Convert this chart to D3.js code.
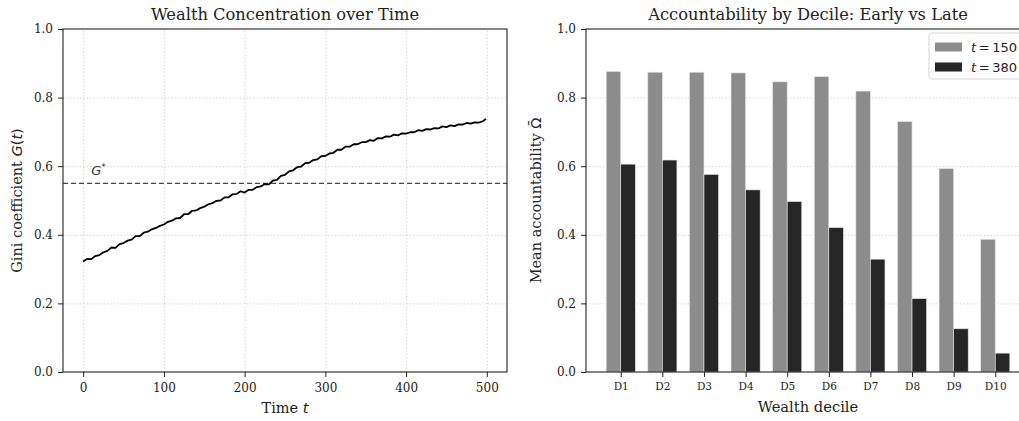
<!DOCTYPE html>
<html>
<head>
<meta charset="utf-8">
<script src="https://cdn.jsdelivr.net/npm/d3@7"></script>
<style>
  body { margin: 0; background: #fff; }
  svg { display: block; }
  text { font-family: "DejaVu Serif", serif; fill: #222; }
  .axis text { font-family: "DejaVu Serif", serif; font-size: 12px; fill: #222; }
  .axis path, .axis line { stroke: #222; }
  .grid line { stroke: #c8c8c8; stroke-dasharray: 1.2,2.2; stroke-width: 0.9; }
  .grid path { display: none; }
  .math { font-family: "DejaVu Sans", sans-serif; }
</style>
</head>
<body>
<svg id="fig" width="1019" height="421"></svg>
<script>
// ---- data ----
// Gini coefficient G(t), sampled every 5 steps (last point t=499)
const giniTimes = [
  0, 5, 10, 15, 20, 25, 30, 35, 40, 45, 50, 55, 60, 65, 70, 75, 80, 85, 90, 95,
  100, 105, 110, 115, 120, 125, 130, 135, 140, 145, 150, 155, 160, 165, 170, 175, 180, 185, 190, 195,
  200, 205, 210, 215, 220, 225, 230, 235, 240, 245, 250, 255, 260, 265, 270, 275, 280, 285, 290, 295,
  300, 305, 310, 315, 320, 325, 330, 335, 340, 345, 350, 355, 360, 365, 370, 375, 380, 385, 390, 395,
  400, 405, 410, 415, 420, 425, 430, 435, 440, 445, 450, 455, 460, 465, 470, 475, 480, 485, 490, 495, 499
];
const giniValues = [
  0.322, 0.330, 0.329, 0.338, 0.341, 0.349, 0.353, 0.363, 0.362, 0.373,
  0.376, 0.383, 0.386, 0.396, 0.396, 0.406, 0.409, 0.416, 0.420, 0.426,
  0.430, 0.438, 0.441, 0.448, 0.449, 0.460, 0.460, 0.470, 0.471, 0.478,
  0.482, 0.489, 0.492, 0.499, 0.500, 0.509, 0.509, 0.518, 0.519, 0.527,
  0.523, 0.531, 0.531, 0.539, 0.541, 0.548, 0.547, 0.558, 0.560, 0.572,
  0.575, 0.585, 0.588, 0.597, 0.599, 0.609, 0.610, 0.618, 0.620, 0.629,
  0.630, 0.637, 0.639, 0.648, 0.648, 0.657, 0.657, 0.664, 0.664, 0.670,
  0.670, 0.676, 0.674, 0.682, 0.681, 0.687, 0.686, 0.692, 0.690, 0.696,
  0.695, 0.699, 0.699, 0.705, 0.703, 0.708, 0.707, 0.711, 0.710, 0.716,
  0.714, 0.719, 0.717, 0.722, 0.721, 0.726, 0.724, 0.728, 0.727, 0.731, 0.738
];
const giniThreshold = 0.55;

const deciles = ["D1", "D2", "D3", "D4", "D5", "D6", "D7", "D8", "D9", "D10"];
const omegaEarly = [0.876, 0.874, 0.874, 0.872, 0.846, 0.861, 0.819, 0.730, 0.593, 0.387]; // t = 150
const omegaLate  = [0.606, 0.618, 0.576, 0.531, 0.497, 0.421, 0.329, 0.214, 0.126, 0.055]; // t = 380

const yTicks = [0.0, 0.2, 0.4, 0.6, 0.8, 1.0];
const timeTicks = [0, 100, 200, 300, 400, 500];

const svg = d3.select("#fig");

// ---- left panel: gini over time ----
const left = {x0: 63, x1: 507, y0: 29, y1: 372};
const xT = d3.scaleLinear().domain([-25, 525]).range([left.x0, left.x1]);
const yG = d3.scaleLinear().domain([0, 1]).range([left.y1, left.y0]);

const gL = svg.append("g");

gL.append("g").attr("class", "grid")
    .attr("transform", "translate(0," + left.y1 + ")")
    .call(d3.axisBottom(xT).tickValues(timeTicks).tickSize(-(left.y1 - left.y0)).tickFormat(""));
gL.append("g").attr("class", "grid")
    .attr("transform", "translate(" + left.x0 + ",0)")
    .call(d3.axisLeft(yG).tickValues(yTicks.slice(1, 5)).tickSize(-(left.x1 - left.x0)).tickFormat(""));

gL.append("line")
    .attr("x1", left.x0).attr("x2", left.x1)
    .attr("y1", yG(giniThreshold)).attr("y2", yG(giniThreshold))
    .attr("stroke", "#444").attr("stroke-width", 1.2).attr("stroke-dasharray", "5,3");

gL.append("text")
    .attr("class", "math")
    .attr("x", xT(10)).attr("y", yG(giniThreshold) - 8)
    .style("font-size", "13px").style("font-style", "italic")
    .style("fill", "#333")
    .text("G")
    .append("tspan").attr("dy", -5).style("font-size", "9px").style("font-style", "normal").text("*");

const line = d3.line().x((d, i) => xT(giniTimes[i])).y(d => yG(d));
gL.append("path")
    .datum(giniValues)
    .attr("d", line)
    .attr("fill", "none")
    .attr("stroke", "#000")
    .attr("stroke-width", 1.8)
    .attr("stroke-linejoin", "round");

gL.append("rect")
    .attr("x", left.x0).attr("y", left.y0)
    .attr("width", left.x1 - left.x0).attr("height", left.y1 - left.y0)
    .attr("fill", "none").attr("stroke", "#222").attr("stroke-width", 1.1);

gL.append("g").attr("class", "axis")
    .attr("transform", "translate(0," + left.y1 + ")")
    .call(d3.axisBottom(xT).tickValues(timeTicks).tickSize(5).tickPadding(6))
    .call(g => g.select(".domain").remove());
gL.append("g").attr("class", "axis")
    .attr("transform", "translate(" + left.x0 + ",0)")
    .call(d3.axisLeft(yG).tickValues(yTicks).tickSize(5).tickPadding(5).tickFormat(d3.format(".1f")))
    .call(g => g.select(".domain").remove());

gL.append("text")
    .attr("x", (left.x0 + left.x1) / 2).attr("y", 20)
    .attr("text-anchor", "middle").style("font-size", "16.3px")
    .text("Wealth Concentration over Time");

gL.append("text")
    .attr("x", (left.x0 + left.x1) / 2).attr("y", 413)
    .attr("text-anchor", "middle").style("font-size", "14.5px")
    .text("Time ")
    .append("tspan").attr("class", "math").style("font-style", "italic").text("t");

gL.append("text")
    .attr("transform", "translate(22," + ((left.y0 + left.y1) / 2) + ") rotate(-90)")
    .attr("text-anchor", "middle").style("font-size", "14.5px")
    .call(t => {
        t.append("tspan").text("Gini coefficient ");
        t.append("tspan").attr("class", "math").style("font-style", "italic").text("G");
        t.append("tspan").attr("class", "math").text("(");
        t.append("tspan").attr("class", "math").style("font-style", "italic").text("t");
        t.append("tspan").attr("class", "math").text(")");
    });

// ---- right panel: accountability by decile ----
const right = {x0: 586, x1: 1030, y0: 29, y1: 372};
const barW = 0.35;
const xD = d3.scaleLinear().domain([-0.835, 9.835]).range([right.x0, right.x1]);
const yO = d3.scaleLinear().domain([0, 1]).range([right.y1, right.y0]);

const gR = svg.append("g");

gR.append("g").attr("class", "grid")
    .attr("transform", "translate(" + right.x0 + ",0)")
    .call(d3.axisLeft(yO).tickValues(yTicks.slice(1, 5)).tickSize(-(right.x1 - right.x0)).tickFormat(""));

const series = [
    {name: "150", values: omegaEarly, color: "#8c8c8c", offset: -barW / 2},
    {name: "380", values: omegaLate, color: "#262626", offset: barW / 2}
];

series.forEach(s => {
    gR.selectAll(".bar" + s.name)
        .data(s.values)
        .enter().append("rect")
        .attr("class", "bar" + s.name)
        .attr("x", (d, i) => xD(i + s.offset - barW / 2))
        .attr("width", xD(barW) - xD(0))
        .attr("y", d => yO(d))
        .attr("height", d => yO(0) - yO(d))
        .attr("fill", s.color)
        .attr("stroke", "#e6e6e6")
        .attr("stroke-width", 0.6);
});

gR.append("rect")
    .attr("x", right.x0).attr("y", right.y0)
    .attr("width", right.x1 - right.x0).attr("height", right.y1 - right.y0)
    .attr("fill", "none").attr("stroke", "#222").attr("stroke-width", 1.1);

gR.append("g").attr("class", "axis")
    .attr("transform", "translate(0," + right.y1 + ")")
    .call(d3.axisBottom(xD).tickValues(d3.range(deciles.length)).tickSize(5).tickPadding(6)
        .tickFormat(i => deciles[i]))
    .call(g => g.select(".domain").remove())
    .call(g => g.selectAll("text").style("font-size", "10.5px"));
gR.append("g").attr("class", "axis")
    .attr("transform", "translate(" + right.x0 + ",0)")
    .call(d3.axisLeft(yO).tickValues(yTicks).tickSize(5).tickPadding(5).tickFormat(d3.format(".1f")))
    .call(g => g.select(".domain").remove());

gR.append("text")
    .attr("x", (right.x0 + right.x1) / 2).attr("y", 20)
    .attr("text-anchor", "middle").style("font-size", "16.3px")
    .text("Accountability by Decile: Early vs Late");

gR.append("text")
    .attr("x", (right.x0 + right.x1) / 2).attr("y", 412)
    .attr("text-anchor", "middle").style("font-size", "14.7px")
    .text("Wealth decile");

gR.append("text")
    .attr("transform", "translate(541," + ((right.y0 + right.y1) / 2) + ") rotate(-90)")
    .attr("text-anchor", "middle").style("font-size", "14.5px")
    .call(t => {
        t.append("tspan").text("Mean accountability ");
        t.append("tspan").attr("class", "math").text("\u03A9");
        t.append("tspan").attr("class", "math").attr("dx", "-0.63em").attr("dy", "-0.12em").text("\u00AF");
    });

// legend
const leg = gR.append("g").attr("transform", "translate(929,33)");
leg.append("rect")
    .attr("width", 110).attr("height", 46).attr("rx", 3)
    .attr("fill", "#fff").attr("fill-opacity", 0.85)
    .attr("stroke", "#d0d0d0").attr("stroke-width", 0.9);
series.forEach((s, i) => {
    const row = leg.append("g").attr("transform", "translate(0," + (i * 20) + ")");
    row.append("rect")
        .attr("x", 6).attr("y", 9.5).attr("width", 27).attr("height", 9)
        .attr("fill", s.color);
    const t = row.append("text")
        .attr("class", "math")
        .attr("x", 42).attr("y", 18.5)
        .style("font-size", "13px");
    t.append("tspan").style("font-style", "italic").text("t");
    t.append("tspan").text("\u2009=\u2009" + s.name);
});
</script>
</body>
</html>
